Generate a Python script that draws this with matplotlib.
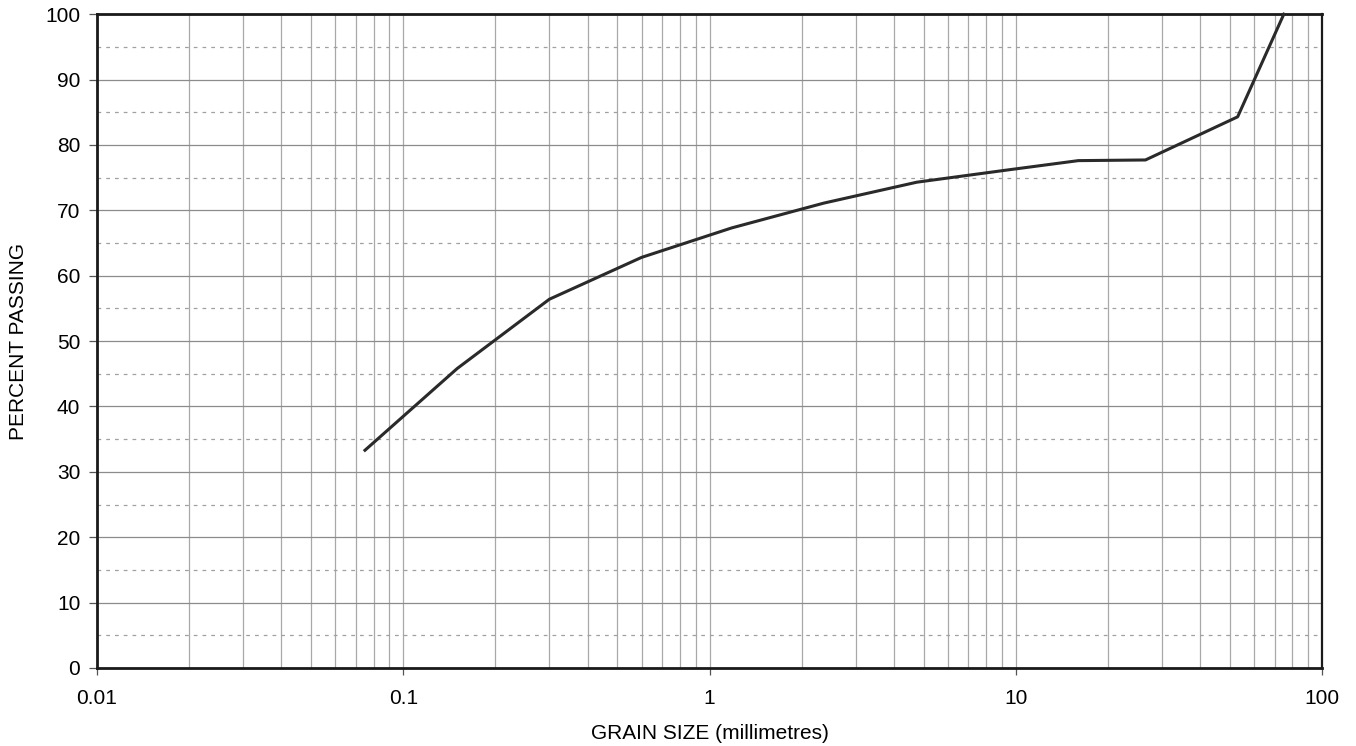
import matplotlib
matplotlib.use("Agg")
import matplotlib.pyplot as plt
from matplotlib.ticker import LogLocator, FixedLocator, NullFormatter

plt.rcParams['font.family'] = ['Liberation Sans', 'DejaVu Sans']

# sieve sizes (mm) and percent passing
grain_mm = [0.075, 0.15, 0.3, 0.6, 1.18, 2.36, 4.75, 9.5, 16, 26.5, 53, 75]
passing = [33.3, 45.8, 56.4, 62.8, 67.3, 71.1, 74.3, 76.2, 77.6, 77.7, 84.3, 100]

x_ticks = [0.01, 0.1, 1, 10, 100]
x_labels = ['0.01', '0.1', '1', '10', '100']

fig = plt.figure(figsize=(13.56, 7.46), dpi=100)
ax = fig.add_axes([0.0715, 0.1046, 0.9035, 0.8764])

ax.plot(grain_mm, passing, color='#2a2a2a', lw=2.2, zorder=5, clip_on=False)

ax.set_xscale('log')
ax.set_xlim(0.01, 100)
ax.set_ylim(0, 100)

ax.set_xticks(x_ticks)
ax.set_xticklabels(x_labels)
ax.xaxis.set_minor_locator(LogLocator(base=10, subs=range(2, 10)))
ax.xaxis.set_minor_formatter(NullFormatter())
ax.set_yticks(range(0, 101, 10))
ax.yaxis.set_minor_locator(FixedLocator(range(5, 100, 10)))

ax.grid(which='major', axis='x', color='#a8a8a8', lw=0.9)
ax.grid(which='minor', axis='x', color='#a8a8a8', lw=0.9)
ax.grid(which='major', axis='y', color='#8c8c8c', lw=0.9)
ax.grid(which='minor', axis='y', color='#a0a0a0', lw=0.9, ls=(0, (3, 4)))

ax.tick_params(axis='x', which='major', length=5, width=0.9, pad=10,
               labelsize=15, color='#555555')
ax.tick_params(axis='x', which='minor', length=0)
ax.tick_params(axis='y', which='major', length=6, width=0.9, pad=6,
               labelsize=15, color='#555555')
ax.tick_params(axis='y', which='minor', length=0)

for side in ['left', 'bottom', 'top']:
    ax.spines[side].set_linewidth(2.0)
    ax.spines[side].set_color('#1a1a1a')
ax.spines['right'].set_linewidth(1.6)
ax.spines['right'].set_color('#1a1a1a')

ax.set_xlabel('GRAIN SIZE (millimetres)', fontsize=15, labelpad=12)
ax.set_ylabel('PERCENT PASSING', fontsize=15, labelpad=12)

fig.savefig('out.png', dpi=100)
